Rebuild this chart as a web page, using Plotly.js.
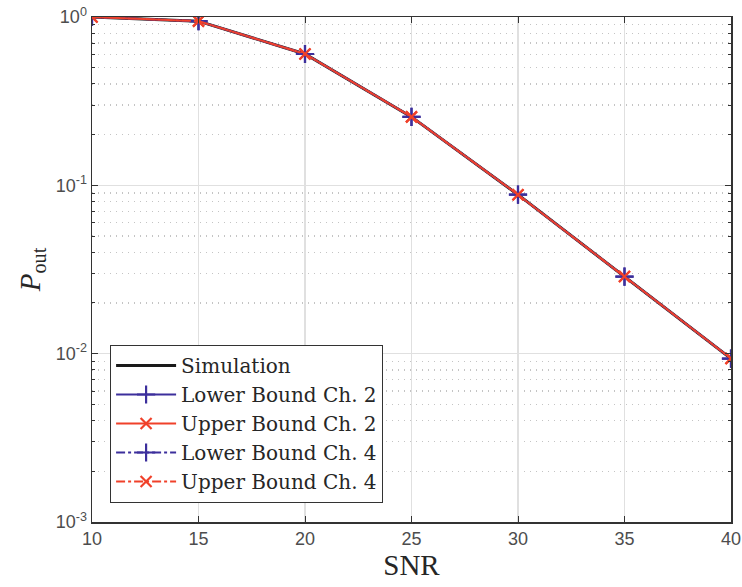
<!DOCTYPE html>
<html>
<head>
<meta charset="utf-8">
<script src="https://cdn.plot.ly/plotly-3.0.1.min.js"></script>
<style>html,body{margin:0;padding:0;background:#fff;}#chart{width:742px;height:587px;}</style>
</head>
<body>
<div id="chart"></div>
<script>
const snr = [10, 15, 20, 25, 30, 35, 40];
const simulation = [1.0, 0.945, 0.603, 0.255, 0.0880, 0.0287, 0.00935];
const lowerCh2 = [1.0, 0.945, 0.603, 0.255, 0.0880, 0.0287, 0.00935];
const upperCh2 = [1.0, 0.945, 0.603, 0.255, 0.0880, 0.0287, 0.00935];
const lowerCh4 = [1.0, 0.945, 0.603, 0.255, 0.0880, 0.0287, 0.00935];
const upperCh4 = [1.0, 0.945, 0.603, 0.255, 0.0880, 0.0287, 0.00935];
const yTickVals = [0.001, 0.01, 0.1, 1];
const yTickText = ['10<sup>-3</sup>', '10<sup>-2</sup>', '10<sup>-1</sup>', '10<sup>0</sup>'];
const xTickVals = [10, 15, 20, 25, 30, 35, 40];

const blue = '#3c2f9c';
const red = '#f0412a';
const serif = '"Liberation Serif", "DejaVu Serif", serif';
const legendSerif = '"DejaVu Serif", "Liberation Serif", serif';
const sans = '"Liberation Sans", Arial, sans-serif';

const traces = [
  {x: snr, y: simulation, name: 'Simulation', mode: 'lines', line: {color: '#1a1a1a', width: 3}},
  {x: snr, y: lowerCh2, name: 'Lower Bound Ch. 2', mode: 'lines+markers', line: {color: blue, width: 2},
   marker: {symbol: 'cross-thin-open', size: 13, line: {color: blue, width: 2.2}}},
  {x: snr, y: upperCh2, name: 'Upper Bound Ch. 2', mode: 'lines+markers', line: {color: red, width: 2},
   marker: {symbol: 'x-thin-open', size: 11, line: {color: red, width: 2.2}}},
  {x: snr, y: lowerCh4, name: 'Lower Bound Ch. 4', mode: 'lines+markers', line: {color: blue, width: 2, dash: 'dashdot'},
   marker: {symbol: 'cross-thin-open', size: 13, line: {color: blue, width: 2.2}}},
  {x: snr, y: upperCh4, name: 'Upper Bound Ch. 4', mode: 'lines+markers', line: {color: red, width: 2, dash: 'dashdot'},
   marker: {symbol: 'x-thin-open', size: 11, line: {color: red, width: 2.2}}}
];

const layout = {
  width: 742, height: 587,
  margin: {l: 92, r: 11, t: 17, b: 65},
  paper_bgcolor: '#ffffff', plot_bgcolor: '#ffffff',
  showlegend: true,
  legend: {
    x: 0.028, y: 0.038, xanchor: 'left', yanchor: 'bottom',
    bgcolor: '#ffffff', bordercolor: '#333333', borderwidth: 1.2,
    font: {family: legendSerif, size: 20, color: '#262626'},
    tracegroupgap: 0, itemwidth: 60
  },
  xaxis: {
    range: [10, 40], tickmode: 'array', tickvals: xTickVals,
    ticks: 'inside', ticklen: 6, tickcolor: '#333', tickwidth: 1,
    showline: true, linecolor: '#333', linewidth: 1.5, mirror: 'ticks',
    showgrid: true, gridcolor: '#e0e0e0', gridwidth: 1.5, zeroline: false,
    tickfont: {family: sans, size: 18, color: '#4d4d4d'},
    title: {text: 'SNR', font: {family: serif, size: 29, color: '#262626'}, standoff: 4}
  },
  yaxis: {
    type: 'log', range: [-3, 0], tickmode: 'array', tickvals: yTickVals, ticktext: yTickText,
    ticks: 'inside', ticklen: 6, tickcolor: '#333', tickwidth: 1,
    showline: true, linecolor: '#333', linewidth: 1.5, mirror: 'ticks',
    showgrid: true, gridcolor: '#e0e0e0', gridwidth: 1.5, zeroline: false,
    tickfont: {family: sans, size: 18, color: '#4d4d4d'},
    minor: {ticks: 'inside', ticklen: 3, tickcolor: '#333', showgrid: true, gridcolor: '#c4c4c4', griddash: '1px,5px', gridwidth: 1.2, dtick: 'D1'},
    title: {text: '<i>P</i><sub>out</sub>', font: {family: serif, size: 29, color: '#262626'}, standoff: 6}
  }
};

Plotly.newPlot('chart', traces, layout, {displayModeBar: false, staticPlot: true});
</script>
</body>
</html>
